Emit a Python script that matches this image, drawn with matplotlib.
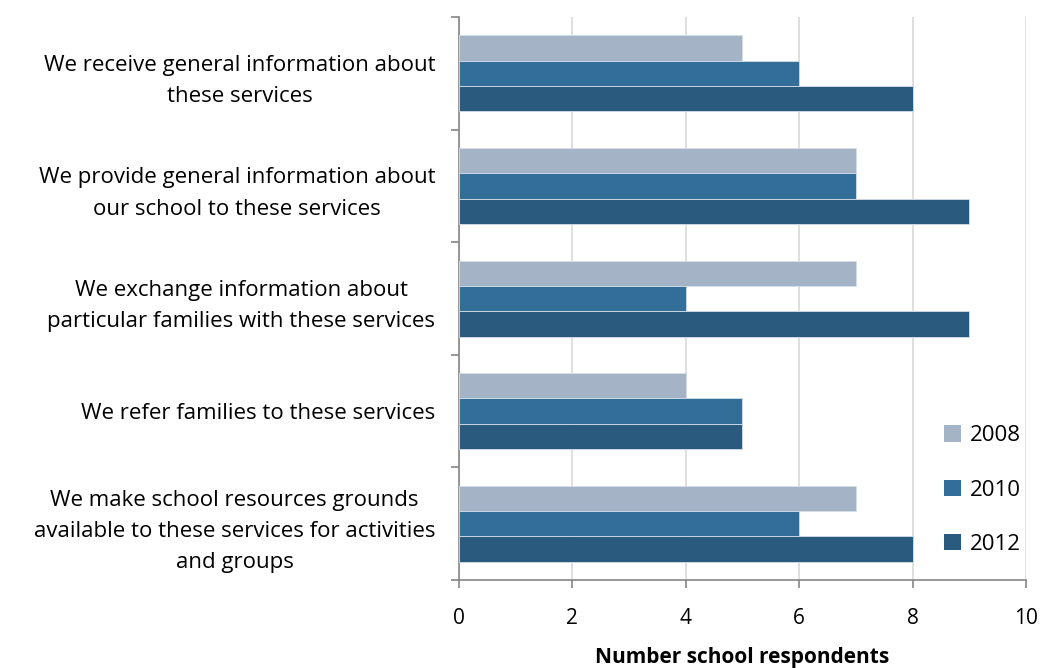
import numpy as np
import matplotlib.pyplot as plt
from matplotlib.patches import Patch

plt.rcParams['font.family'] = ['Open Sans', 'DejaVu Sans']

categories = [
    "We receive general information about\nthese services",
    "We provide general information about\nour school to these services",
    "We exchange information about\nparticular families with these services",
    "We refer families to these services",
    "We make school resources grounds\navailable to these services for activities\nand groups",
]
years = ["2008", "2010", "2012"]
vals_2008 = [5, 7, 7, 4, 7]
vals_2010 = [6, 7, 4, 5, 6]
vals_2012 = [8, 9, 9, 5, 8]
colors = ["#A5B3C7", "#336E99", "#2A5A7E"]

fig = plt.figure(figsize=(10.42, 6.68), dpi=100)
ax = fig.add_axes([0.4405, 0.1317, 0.5441, 0.8428])

n = len(categories)
# first category at top
centers = np.arange(n)[::-1].astype(float)
h = 0.225
series = [vals_2008, vals_2010, vals_2012]
for i, (vals, c) in enumerate(zip(series, colors)):
    ax.barh(centers + (1 - i) * h, vals, height=h, color=c,
            edgecolor="#D5DEE8", linewidth=0.6, zorder=3)

ax.set_xlim(0, 10)
ax.set_ylim(-0.5, n - 0.5)
ax.set_xticks(range(0, 11, 2))
ax.tick_params(axis='x', labelsize=15, length=6, color="#868686", width=1.2, pad=14)
ax.grid(axis='x', color="#D9D9D9", linewidth=1.2, zorder=0)

# tick marks at category boundaries, labels at centers
ax.set_yticks(np.arange(-0.5, n, 1.0))
ax.set_yticklabels([])
ax.tick_params(axis='y', which='major', length=6, color="#868686", width=1.2)
ax.set_yticks(centers, minor=True)
ax.set_yticklabels(categories, minor=True, fontsize=16)
ax.tick_params(axis='y', which='minor', length=0, pad=17)
for lab in ax.get_yticklabels(minor=True):
    lab.set_multialignment('center')
    lab.set_linespacing(1.65)

for s in ['top', 'right']:
    ax.spines[s].set_visible(False)
for s in ['left', 'bottom']:
    ax.spines[s].set_color("#868686")
    ax.spines[s].set_linewidth(1.2)

ax.set_xlabel("Number school respondents", fontsize=15, fontweight='bold', labelpad=13)

handles = [Patch(facecolor=c, edgecolor='none') for c in colors]
ax.legend(handles, years, loc='lower right', bbox_to_anchor=(1.01, 0.025),
          frameon=False, fontsize=16, handlelength=0.75, handleheight=0.75,
          handletextpad=0.4, labelspacing=1.5, borderaxespad=0.1)

fig.savefig("out.png", dpi=100)
